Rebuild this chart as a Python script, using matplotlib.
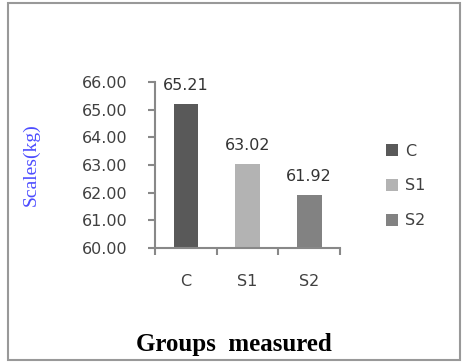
import matplotlib.pyplot as plt
from matplotlib.patches import Patch, Rectangle

groups = ["C", "S1", "S2"]
scales = [65.21, 63.02, 61.92]
colors = ["#595959", "#b3b3b3", "#828282"]
yticks = [60, 61, 62, 63, 64, 65, 66]

fig = plt.figure(figsize=(4.63, 3.62), dpi=100)
ax = fig.add_axes([155/463, 1-248/362, 185/463, 166/362])

x = range(len(groups))
ax.bar(x, scales, width=0.4, color=colors, zorder=2)
for i, v in enumerate(scales):
    ax.annotate("%.2f" % v, (i, v), xytext=(0, 8), textcoords="offset points",
                ha="center", va="bottom", fontsize=11.5, color="#333333")

ax.set_xlim(-0.5, 2.5)
ax.set_ylim(60, 66)
ax.set_yticks(yticks)
ax.set_yticklabels(["%.2f" % t for t in yticks])
ax.set_xticks(list(x))
ax.set_xticklabels(groups)
ax.set_xticks([-0.5, 0.5, 1.5, 2.5], minor=True)

for s in ["top", "right"]:
    ax.spines[s].set_visible(False)
for s in ["left", "bottom"]:
    ax.spines[s].set_color("#888888")
    ax.spines[s].set_linewidth(1.5)

ax.tick_params(axis="y", length=5, width=1.5, color="#888888", pad=15,
               labelsize=11.5, labelcolor="#404040")
ax.tick_params(axis="x", which="major", length=0, pad=19,
               labelsize=11.5, labelcolor="#404040")
ax.tick_params(axis="x", which="minor", length=5, width=1.5, color="#888888")

ax.set_ylabel("Scales(kg)", family="Liberation Serif", fontsize=14,
              color="#4c4cff", labelpad=30)
fig.text(234/463, 1-344/362, "Groups  measured", family="Liberation Serif",
         fontsize=18, fontweight="bold", ha="center", va="center")

handles = [Patch(facecolor=c, label=g) for g, c in zip(groups, colors)]
fig.legend(handles=handles, loc="center left", bbox_to_anchor=(372/463, 1-186/362),
           frameon=False, fontsize=11.5, handlelength=0.75, handleheight=0.75,
           handletextpad=0.4, labelspacing=1.25, labelcolor="#404040")

fig.patches.append(Rectangle((8/463, 2/362), 452/463, 357/362, transform=fig.transFigure,
                             fill=False, edgecolor="#999999", linewidth=1.5))

fig.savefig("out.png", dpi=100)
